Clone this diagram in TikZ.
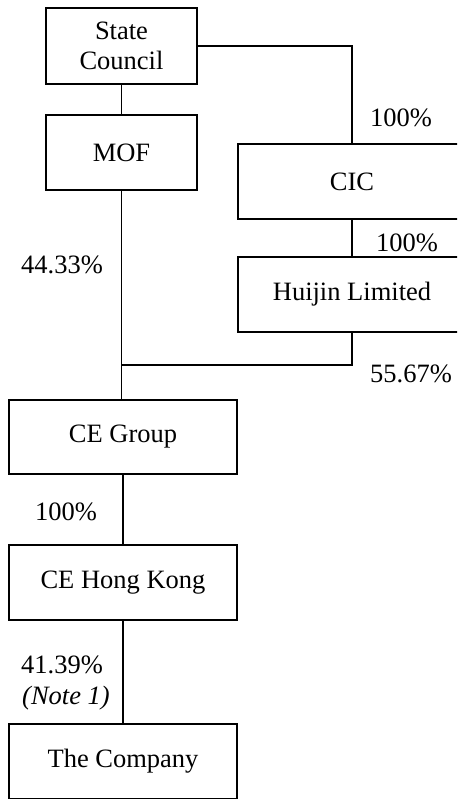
\documentclass[tikz,border=0pt]{standalone}
\usepackage{fontspec}
\setmainfont{Liberation Serif}
\begin{document}
\begin{tikzpicture}[x=1pt,y=-1pt,
  box/.style={draw, line width=1.3pt, rectangle, inner sep=0pt, align=center,
    font=\fontsize{26.5}{30}\selectfont},
  lbl/.style={inner sep=0pt, font=\fontsize{26.5}{30}\selectfont},
  conn/.style={line width=1.3pt}]
\useasboundingbox (0,0) rectangle (457,799);
\clip (0,0) rectangle (457,799);
\node[box, minimum width=151pt, minimum height=76pt] (sc) at (121.5,46) {State\\Council};
\node[box, minimum width=151pt, minimum height=75pt] (mof) at (121.5,152.5) {MOF};
\node[box, minimum width=228pt, minimum height=75pt] (cic) at (352,181.5) {CIC};
\node[box, minimum width=228pt, minimum height=75pt] (hj) at (352,294.5) {Huijin Limited};
\node[box, minimum width=228pt, minimum height=74pt] (ceg) at (123,437) {CE Group};
\node[box, minimum width=228pt, minimum height=75pt] (ceh) at (123,582.5) {CE Hong Kong};
\node[box, minimum width=228pt, minimum height=75pt] (co) at (123,761.5) {The Company};
\coordinate (j) at (122,365);
\draw[conn] (sc.south) -- (mof.north);
\draw[conn] (sc.east) -| (cic.north);
\draw[conn] (cic.south) -- (hj.north);
\draw[conn] (mof.south) -- (mof.south |- ceg.north);
\draw[conn] (hj.south) |- (j);
\draw[conn] (ceg.south) -- (ceg.south |- ceh.north);
\draw[conn] (ceh.south) -- (ceh.south |- co.north);
\node[lbl] (l1) at (401,118) {100\%};
\node[lbl] (l2) at (407,243) {100\%};
\node[lbl] (l3) at (62,265) {44.33\%};
\node[lbl] (l4) at (411,374) {55.67\%};
\node[lbl] (l5) at (66,512) {100\%};
\node[lbl] (l6) at (62,665) {41.39\%};
\node[lbl] (l7) at (66,698) {\itshape (Note 1)};
\end{tikzpicture}
\end{document}
